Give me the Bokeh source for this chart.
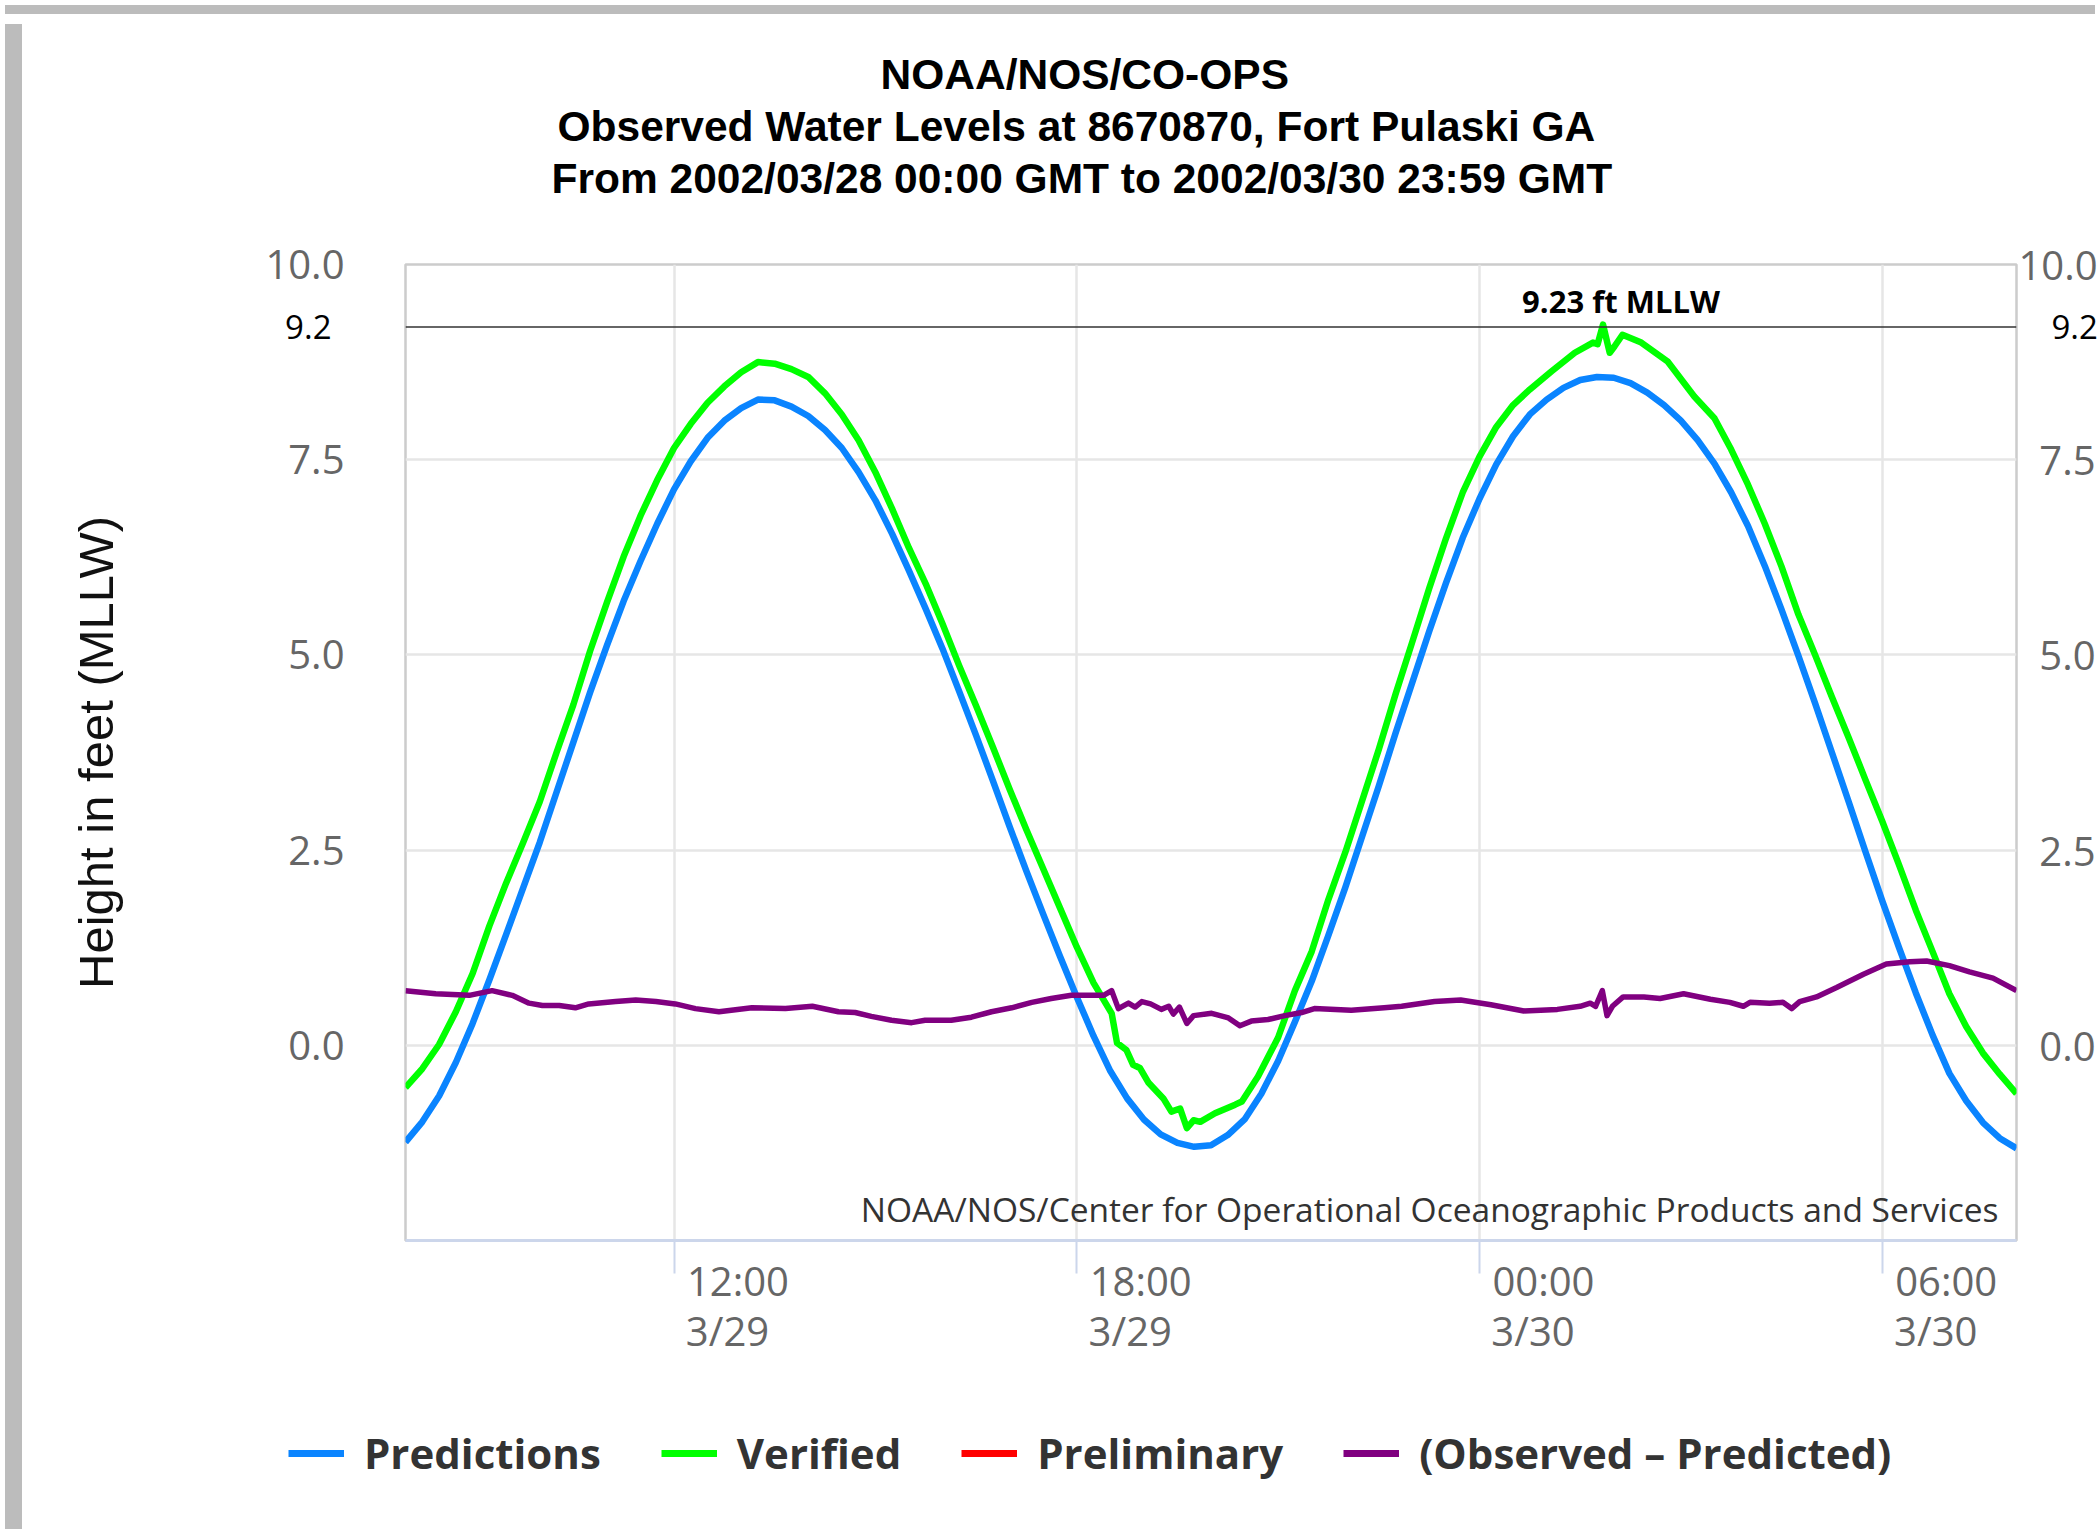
import datetime as dt
from bokeh.plotting import figure
from bokeh.models import (Range1d, FixedTicker, PrintfTickFormatter, CustomJSTickFormatter,
                          Span, Label, LinearAxis, DatetimeAxis, Legend, LegendItem, Title, Div)
from bokeh.layouts import column, row
from bokeh.embed import file_html
from bokeh.resources import INLINE

# ---------------- data ----------------
START = "2002-03-29 08:00"      # left edge of the plotted window
END = "2002-03-30 08:00"        # right edge of the plotted window

# Predictions (ft MLLW), hours after START
pred_hours = [0, 0.25, 0.5, 0.75, 1, 1.25, 1.5, 1.75, 2, 2.25, 2.5, 2.75, 3, 3.25, 3.5, 3.75,
              4, 4.25, 4.5, 4.75, 5, 5.25, 5.5, 5.75, 6, 6.25, 6.5, 6.75, 7, 7.25, 7.5, 7.75,
              8, 8.25, 8.5, 8.75, 9, 9.25, 9.5, 9.75, 10, 10.25, 10.5, 10.75, 11, 11.25,
              11.5, 11.75, 12, 12.25, 12.5, 12.75, 13, 13.25, 13.5, 13.75, 14, 14.25, 14.5,
              14.75, 15, 15.25, 15.5, 15.75, 16, 16.25, 16.5, 16.75, 17, 17.25, 17.5, 17.75,
              18, 18.25, 18.5, 18.75, 19, 19.25, 19.5, 19.75, 20, 20.25, 20.5, 20.75, 21,
              21.25, 21.5, 21.75, 22, 22.25, 22.5, 22.75, 23, 23.25, 23.5, 23.75, 24]
pred_ft = [-1.24, -0.98, -0.65, -0.22, 0.28, 0.84, 1.42, 2.01, 2.60, 3.24, 3.88, 4.52,
           5.12, 5.69, 6.20, 6.68, 7.12, 7.48, 7.78, 8.00, 8.16, 8.27, 8.26, 8.18,
           8.06, 7.88, 7.65, 7.34, 6.98, 6.55, 6.08, 5.59, 5.08, 4.53, 3.97, 3.39,
           2.80, 2.23, 1.68, 1.14, 0.62, 0.12, -0.33, -0.68, -0.95, -1.14, -1.25, -1.30,
           -1.28, -1.15, -0.95, -0.62, -0.20, 0.30, 0.82, 1.41, 2.02, 2.67, 3.32, 4.00,
           4.65, 5.30, 5.92, 6.50, 7.00, 7.44, 7.80, 8.08, 8.27, 8.42, 8.52, 8.56,
           8.55, 8.48, 8.36, 8.20, 8.00, 7.75, 7.45, 7.08, 6.65, 6.14, 5.58, 4.99,
           4.38, 3.75, 3.12, 2.48, 1.85, 1.25, 0.67, 0.13, -0.36, -0.71, -0.99, -1.19,
           -1.32]

# Verified observations (ft MLLW)
ver_hours = [0, 0.25, 0.5, 0.75, 1, 1.25, 1.5, 1.75, 2, 2.25, 2.5, 2.75, 3, 3.25, 3.5, 3.75,
             4, 4.25, 4.5, 4.75, 5, 5.25, 5.5, 5.75, 6, 6.25, 6.5, 6.75, 7, 7.25, 7.5, 7.75,
             8, 8.25, 8.5, 8.75, 9, 9.25, 9.5, 9.75, 10, 10.25, 10.52, 10.60, 10.74, 10.84,
             10.94, 11.07, 11.29, 11.41, 11.54, 11.64, 11.74, 11.84, 12.06, 12.36, 12.46,
             12.70, 13.0, 13.25, 13.5, 13.75, 14.0, 14.25, 14.5, 14.75, 15.0, 15.25, 15.5,
             15.75, 16.0, 16.25, 16.5, 16.75, 17.07, 17.42, 17.69, 17.76, 17.84, 17.94,
             18.01, 18.13, 18.41, 18.80, 19.20, 19.5, 19.75, 20.0, 20.25, 20.5, 20.75,
             21.0, 21.25, 21.5, 21.75, 22.0, 22.25, 22.5, 22.75, 23.0, 23.25, 23.5, 23.75,
             24.0]
ver_ft = [-0.54, -0.30, 0.01, 0.43, 0.92, 1.53, 2.08, 2.59, 3.12, 3.75, 4.36, 5.05,
          5.67, 6.26, 6.78, 7.24, 7.65, 7.96, 8.23, 8.44, 8.62, 8.75, 8.73, 8.66,
          8.56, 8.35, 8.08, 7.75, 7.34, 6.87, 6.37, 5.91, 5.40, 4.86, 4.35, 3.82,
          3.28, 2.76, 2.26, 1.76, 1.26, 0.80, 0.41, 0.03, -0.06, -0.25, -0.29, -0.48,
          -0.68, -0.85, -0.81, -1.06, -0.96, -0.98, -0.87, -0.76, -0.72, -0.40, 0.10,
          0.70, 1.20, 1.87, 2.47, 3.13, 3.79, 4.50, 5.17, 5.85, 6.49, 7.08, 7.54, 7.92,
          8.20, 8.40, 8.63, 8.87, 9.00, 8.98, 9.23, 8.87, 8.95, 9.10, 9.00, 8.76, 8.31,
          8.03, 7.63, 7.18, 6.68, 6.13, 5.52, 5.00, 4.46, 3.94, 3.40, 2.87, 2.31, 1.73,
          1.20, 0.66, 0.24, -0.10, -0.37, -0.62]

# Preliminary (no values in this window)
prelim_hours = [0]
prelim_ft = [float("nan")]

# Observed - Predicted (ft)
res_hours = [0, 0.45, 0.95, 1.29, 1.59, 1.84, 2.04, 2.29, 2.53, 2.73,
             3.13, 3.43, 3.73, 4.02, 4.32, 4.67, 5.16, 5.66, 6.06, 6.45,
             6.70, 6.94, 7.24, 7.54, 7.74, 8.13, 8.43, 8.73, 9.03, 9.33,
             9.62, 9.92, 10.17, 10.40, 10.52, 10.62, 10.77, 10.87, 10.97, 11.10,
             11.26, 11.37, 11.44, 11.53, 11.64, 11.74, 12.01, 12.26, 12.43, 12.60,
             12.85, 13.10, 13.35, 13.54, 14.09, 14.58, 14.84, 15.33, 15.72, 16.17,
             16.66, 17.16, 17.50, 17.65, 17.73, 17.83, 17.90, 17.98, 18.14, 18.45,
             18.69, 19.04, 19.44, 19.73, 19.93, 20.03, 20.32, 20.52, 20.65, 20.77,
             21.02, 21.32, 21.72, 22.06, 22.41, 22.66, 23.00, 23.30, 23.65, 24.0]
res_ft = [0.70, 0.66, 0.64, 0.70, 0.64, 0.54, 0.51, 0.51, 0.48, 0.53,
          0.56, 0.58, 0.56, 0.53, 0.47, 0.43, 0.48, 0.47, 0.50, 0.43,
          0.42, 0.37, 0.32, 0.29, 0.32, 0.32, 0.36, 0.43, 0.48, 0.55,
          0.60, 0.64, 0.64, 0.64, 0.70, 0.47, 0.54, 0.49, 0.56, 0.53,
          0.46, 0.50, 0.40, 0.49, 0.28, 0.38, 0.41, 0.35, 0.25, 0.31,
          0.33, 0.38, 0.42, 0.47, 0.45, 0.48, 0.50, 0.56, 0.58, 0.52,
          0.44, 0.46, 0.50, 0.54, 0.50, 0.70, 0.38, 0.50, 0.62, 0.62,
          0.60, 0.66, 0.59, 0.55, 0.50, 0.55, 0.54, 0.55, 0.47, 0.56,
          0.62, 0.74, 0.91, 1.04, 1.07, 1.08, 1.02, 0.94, 0.86, 0.70]

y_ticks = [0.0, 2.5, 5.0, 7.5, 10.0]
x_tick_times = ["2002-03-29 12:00", "2002-03-29 18:00", "2002-03-30 00:00", "2002-03-30 06:00"]
x_tick_labels = ["12:00\n3/29", "18:00\n3/29", "00:00\n3/30", "06:00\n3/30"]

max_level = 9.23
max_level_hour = 17.84
max_line_value = 9.2
max_text = "9.23 ft MLLW"

series_names = ["Predictions", "Verified", "Preliminary", "(Observed \u2013 Predicted)"]
series_colors = ["#0a84ff", "#00ff00", "#ff0000", "#800080"]

title_lines = ["NOAA/NOS/CO-OPS",
               "Observed Water Levels at 8670870, Fort Pulaski GA",
               "From 2002/03/28 00:00 GMT to 2002/03/30 23:59 GMT"]
credit_text = "NOAA/NOS/Center for Operational Oceanographic Products and Services"
y_title = "Height in feet (MLLW)"

# ---------------- helpers ----------------
FMT = "%Y-%m-%d %H:%M"
t0 = dt.datetime.strptime(START, FMT)
t1 = dt.datetime.strptime(END, FMT)
NB = "\u00a0"


def to_times(hours):
    return [t0 + dt.timedelta(hours=h) for h in hours]


def to_ms(d):
    return (d - dt.datetime(1970, 1, 1)).total_seconds() * 1000.0


x_tick_ms = [to_ms(dt.datetime.strptime(s, FMT)) for s in x_tick_times]
# second line padded so both lines of a label share one width
x_tick_text = [lab.split("\n")[0] + "\n" + lab.split("\n")[1] + NB * 2 for lab in x_tick_labels]
right_tick_text = [("%.1f" % v) if v >= 10 else NB * 2 + ("%.1f" % v) for v in y_ticks]

LOOKUP_JS = "const i = tv.indexOf(tick); return i < 0 ? '' : labs[i];"

# ---------------- geometry ----------------
FIG_W = 2073
H_MAIN, H_LEG = 1351, 154
LEFT, RIGHT, TOP, BOTTOM = 378, 82, 245, 130
FRAME_W = FIG_W - LEFT - RIGHT
LABEL_SHIFT_H = 0.952      # x-tick text sits to the right of its tick
LEG_SHIFT = 117            # legend strip starts this far left of the plot frame

p = figure(width=FIG_W, height=H_MAIN, x_axis_type="datetime",
           x_range=Range1d(t0, t1), y_range=Range1d(-2.5, 10.0),
           output_backend="svg", toolbar_location=None, title_location=None,
           min_border_left=LEFT, min_border_right=RIGHT,
           min_border_top=TOP, min_border_bottom=BOTTOM)
p.background_fill_color = "white"
p.border_fill_color = "white"
p.outline_line_color = "#cccccc"
p.outline_line_width = 2.5

# grids
p.xgrid.ticker = FixedTicker(ticks=x_tick_ms)
p.ygrid.ticker = FixedTicker(ticks=[0.0, 2.5, 5.0, 7.5])
p.xgrid.grid_line_color = "#e6e6e6"
p.ygrid.grid_line_color = "#e6e6e6"
p.xgrid.grid_line_width = 2.5
p.ygrid.grid_line_width = 2.5

# x axis 1: tick marks only
xa = p.xaxis[0]
xa.ticker = FixedTicker(ticks=x_tick_ms)
xa.formatter = CustomJSTickFormatter(code="return ''")
xa.major_tick_out = 33
xa.major_tick_in = 0
xa.minor_tick_line_color = None
xa.major_tick_line_color = "#ccd6eb"
xa.major_tick_line_width = 2
xa.axis_line_color = "#ccd6eb"
xa.axis_line_width = 3
xa.major_label_text_font_size = "1px"
xa.major_label_standoff = 0

# x axis 2: tick labels, drawn on a range shifted so the text sits right of each tick
shift = dt.timedelta(hours=LABEL_SHIFT_H)
p.extra_x_ranges = {"xlab": Range1d(t0 - shift, t1 - shift)}
xb = DatetimeAxis(x_range_name="xlab", ticker=FixedTicker(ticks=x_tick_ms),
                  formatter=CustomJSTickFormatter(
                      args=dict(tv=x_tick_ms, labs=x_tick_text), code=LOOKUP_JS))
xb.major_tick_out = 0
xb.major_tick_in = 0
xb.minor_tick_line_color = None
xb.major_tick_line_color = None
xb.axis_line_color = None
xb.major_label_standoff = -21
xb.major_label_text_font = "Open Sans"
xb.major_label_text_font_size = "40px"
xb.major_label_text_color = "#666666"
xb.major_label_text_line_height = 0.92
p.add_layout(xb, "below")

# y axis 1 (left): grey tick labels
ya = p.yaxis[0]
ya.ticker = FixedTicker(ticks=y_ticks)
ya.formatter = PrintfTickFormatter(format="%.1f")
ya.major_tick_out = 0
ya.major_tick_in = 0
ya.minor_tick_line_color = None
ya.axis_line_color = None
ya.major_label_standoff = 61
ya.major_label_text_font = "Open Sans"
ya.major_label_text_font_size = "40px"
ya.major_label_text_color = "#666666"

# y axis 2 (left, outer): black 9.2 label of the max line + axis title
yb = LinearAxis(ticker=FixedTicker(ticks=[max_line_value]),
                formatter=PrintfTickFormatter(format="%.1f"))
yb.major_tick_out = 0
yb.major_tick_in = 0
yb.minor_tick_line_color = None
yb.major_tick_line_color = None
yb.axis_line_color = None
yb.major_label_standoff = -69
yb.major_label_text_font = "Open Sans"
yb.major_label_text_font_size = "33px"
yb.major_label_text_color = "#000000"
yb.axis_label = y_title
yb.axis_label_text_font = "Liberation Sans"
yb.axis_label_text_font_style = "normal"
yb.axis_label_text_font_size = "49px"
yb.axis_label_text_color = "#111111"
yb.axis_label_standoff = 159
p.add_layout(yb, "left")

# y axis 3 (right): grey labels, right-aligned by padding
yr = LinearAxis(ticker=FixedTicker(ticks=y_ticks),
                formatter=CustomJSTickFormatter(
                    args=dict(tv=y_ticks, labs=right_tick_text), code=LOOKUP_JS))
yr.major_tick_out = 0
yr.major_tick_in = 0
yr.minor_tick_line_color = None
yr.major_tick_line_color = None
yr.axis_line_color = None
yr.major_label_standoff = 2
yr.major_label_text_font = "Open Sans"
yr.major_label_text_font_size = "40px"
yr.major_label_text_color = "#666666"
p.add_layout(yr, "right")

# y axis 4 (right, outer): black 9.2 label
yr2 = LinearAxis(ticker=FixedTicker(ticks=[max_line_value]),
                 formatter=PrintfTickFormatter(format="%.1f"))
yr2.major_tick_out = 0
yr2.major_tick_in = 0
yr2.minor_tick_line_color = None
yr2.major_tick_line_color = None
yr2.axis_line_color = None
yr2.major_label_standoff = -49
yr2.major_label_text_font = "Open Sans"
yr2.major_label_text_font_size = "33px"
yr2.major_label_text_color = "#000000"
p.add_layout(yr2, "right")

# ---------------- series ----------------
LW = 6.5
p.line(x=to_times(pred_hours), y=pred_ft, line_color=series_colors[0],
       line_width=LW, line_join="round")
p.line(x=to_times(ver_hours), y=ver_ft, line_color=series_colors[1],
       line_width=LW, line_join="round")
p.line(x=to_times(prelim_hours), y=prelim_ft, line_color=series_colors[2], line_width=LW)
p.line(x=to_times(res_hours), y=res_ft, line_color=series_colors[3],
       line_width=5.5, line_join="round")

# max water level line and its label
p.add_layout(Span(location=max_line_value, dimension="width",
                  line_color="#333333", line_width=1.5))
p.add_layout(Label(x=t0 + dt.timedelta(hours=max_level_hour), y=max_level + 0.30,
                   x_offset=18, text=max_text, text_align="center",
                   text_baseline="alphabetic", text_font="Open Sans",
                   text_font_style="bold", text_font_size="31px", text_color="#000000"))

# credit text inside plot area
p.add_layout(Label(x=FRAME_W - 20, y=32, x_units="screen", y_units="screen",
                   text=credit_text, text_align="right", text_baseline="alphabetic",
                   text_font="Open Sans", text_font_size="33.5px",
                   text_color="#333333"))

# title: spacer, then the three lines (first added sits closest to the plot)
p.add_layout(Title(text=" ", text_font_size="10px", standoff=48), "above")
title_offsets = [475, 152, 146]
for line, off in reversed(list(zip(title_lines, title_offsets))):
    p.add_layout(Title(text=line, align="left", offset=off, standoff=3,
                       text_font="Liberation Sans", text_font_style="bold",
                       text_font_size="42.5px", text_color="#000000"), "above")

# ---------------- legend strip below the chart ----------------
# same side borders as the chart, shifted left so the legend is centred like the reference's
pl = figure(width=FIG_W + LEG_SHIFT, height=H_LEG, x_range=Range1d(0, 1), y_range=Range1d(0, 1),
            output_backend="svg", toolbar_location=None, title_location=None,
            x_axis_location=None, y_axis_location=None,
            min_border_left=LEFT, min_border_right=RIGHT, min_border_top=0, min_border_bottom=0,
            margin=(0, 0, 0, -LEG_SHIFT))
pl.outline_line_color = None
pl.grid.visible = False
pl.border_fill_alpha = 0
pl.background_fill_alpha = 0
leg_renderers = [pl.line(x=[0], y=[float("nan")], line_color=c, line_width=7)
                 for c in series_colors]
legend = Legend(items=[LegendItem(label=n, renderers=[r])
                       for n, r in zip(series_names, leg_renderers)],
                orientation="horizontal", location=(0, 43),
                glyph_width=56, glyph_height=20, label_standoff=20, spacing=60,
                padding=0, margin=0, border_line_color=None,
                background_fill_alpha=0,
                label_text_font="Open Sans", label_text_font_style="bold",
                label_text_font_size="42px", label_text_color="#333333")
pl.add_layout(legend)

# gray page frame (screenshot border)
strip_top = Div(width=2090, height=9, styles={"background-color": "#bcbcbc"})
strip_left = Div(width=17, height=H_MAIN + H_LEG, styles={"background-color": "#bcbcbc"})
page = column(strip_top, row(strip_left, column(p, pl, spacing=0), spacing=0), spacing=0)

open("out.html", "w").write(file_html(page, INLINE))
